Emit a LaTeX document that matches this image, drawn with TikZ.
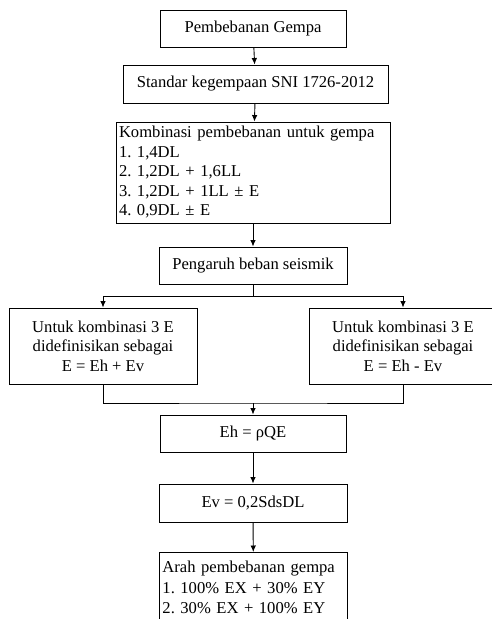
\documentclass[tikz,border=0pt]{standalone}
\usepackage{fontspec}
\setmainfont{Liberation Serif}
\usetikzlibrary{arrows.meta}
\frenchspacing

\begin{document}
\begin{tikzpicture}[x=1pt,y=-1pt,
		kotak/.style={draw,line width=0.9pt,align=center,inner sep=3pt,
			minimum width=188pt,minimum height=37pt},
		panah/.style={-{Latex[length=6.5pt,width=5.5pt]},line width=0.9pt},
		garis/.style={line width=0.9pt},
		every node/.style={font=\fontsize{16.6}{19.5}\selectfont}]
		
		\useasboundingbox (0,0) rectangle (492,619);
		\clip (0,0) rectangle (492,619);
		
		\node[kotak,minimum width=186pt] (gempa) at (253,28.5) {Pembebanan Gempa};
		\node[kotak,minimum width=265pt,minimum height=38pt] (standar) at (255.5,84) {Standar kegempaan SNI 1726-2012};
		\node[kotak,align=left,text width=268pt,minimum width=274pt,minimum height=101pt] (kombinasi) at (253,172.5)
		{Kombinasi pembebanan untuk gempa\\ 1. 1,4DL\\ 2. 1,2DL + 1,6LL\\ 3. 1,2DL + 1LL ± E\\ 4. 0,9DL ± E};
		\node[kotak] (pengaruh) at (253,265.5) {Pengaruh beban seismik};
		
		\node[kotak,minimum height=76pt] (kiri) at (103,346) {Untuk kombinasi 3 E\\ didefinisikan sebagai\\ E = Eh + Ev};
		\node[kotak,minimum height=76pt] (kanan) at (403,346) {Untuk kombinasi 3 E\\ didefinisikan sebagai\\ E = Eh - Ev};
		
		\node[kotak,minimum width=186pt] (eh) at (253,433.5) {Eh = ρQE};
		\node[kotak,minimum height=38pt] (ev) at (253,503) {Ev = 0,2SdsDL};
		\node[kotak,anchor=north west,align=left,text width=182pt,inner ysep=9pt,
			font=\fontsize{16.6}{20.3}\selectfont] (arah) at (159,552)
		{Arah pembebanan gempa\\ 1. 100\% EX + 30\% EY\\ 2. 30\% EX + 100\% EY};
		
		% panah utama
		\draw[panah] (gempa) -- (standar);
		\draw[panah] (standar) -- (kombinasi);
		\draw[panah] (kombinasi) -- (pengaruh);
		
		% cabang ke dua kotak
		\coordinate (cabang) at (253,296);
		\draw[garis] (pengaruh) -- (cabang);
		\draw[panah] (cabang) -| (kiri);
		\draw[panah] (cabang) -| (kanan);
		
		% gabung lagi
		\coordinate (gabung) at (253,403);
		\draw[garis] (kiri) |- (gabung) -| (kanan);
		\draw[panah] (gabung) -- (eh);
		\draw[panah] (eh) -- (ev);
		\draw[panah] (ev) -- (arah);
		
	\end{tikzpicture}
\end{document}
